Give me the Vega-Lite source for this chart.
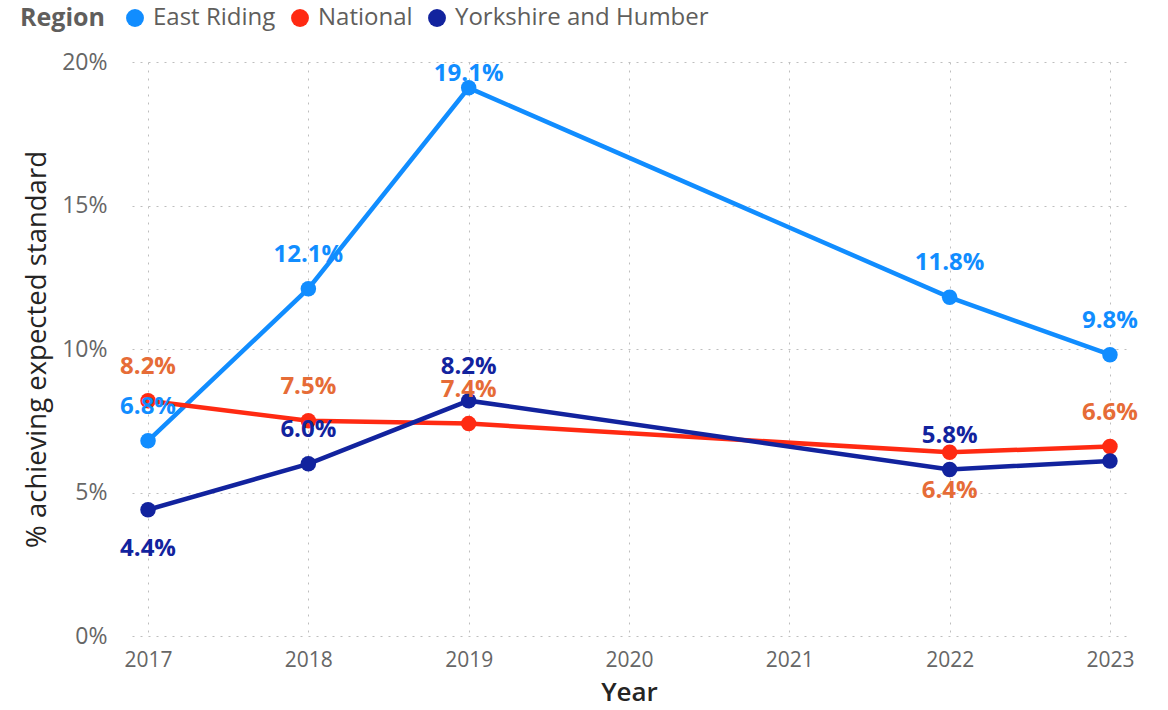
{
  "$schema": "https://vega.github.io/schema/vega-lite/v6.json",
  "width": 994,
  "height": 574,
  "autosize": "none",
  "padding": {"left": 132, "top": 62, "right": 42, "bottom": 74},
  "background": "white",
  "data": {
    "values": [
      {"Region": "East Riding", "Year": 2017, "Value": 0.068},
      {"Region": "East Riding", "Year": 2018, "Value": 0.121},
      {"Region": "East Riding", "Year": 2019, "Value": 0.191},
      {"Region": "East Riding", "Year": 2022, "Value": 0.118},
      {"Region": "East Riding", "Year": 2023, "Value": 0.098},
      {"Region": "National", "Year": 2017, "Value": 0.082},
      {"Region": "National", "Year": 2018, "Value": 0.075},
      {"Region": "National", "Year": 2019, "Value": 0.074},
      {"Region": "National", "Year": 2022, "Value": 0.064},
      {"Region": "National", "Year": 2023, "Value": 0.066},
      {"Region": "Yorkshire and Humber", "Year": 2017, "Value": 0.044},
      {"Region": "Yorkshire and Humber", "Year": 2018, "Value": 0.060},
      {"Region": "Yorkshire and Humber", "Year": 2019, "Value": 0.082},
      {"Region": "Yorkshire and Humber", "Year": 2022, "Value": 0.058},
      {"Region": "Yorkshire and Humber", "Year": 2023, "Value": 0.061}
    ]
  },
  "config": {
    "font": "Open Sans",
    "view": {"stroke": null},
    "axis": {
      "gridColor": "#BEBEBE",
      "gridDash": [2, 6],
      "gridWidth": 1,
      "domain": false,
      "ticks": false,
      "labelColor": "#666666",
      "labelFont": "Open Sans",
      "titleFont": "Open Sans",
      "titleColor": "#252423"
    },
    "legend": {
      "labelFontSize": 24,
      "titleFontSize": 25,
      "labelLimit": 0
    }
  },
  "encoding": {
    "x": {
      "field": "Year",
      "type": "quantitative",
      "scale": {"domain": [2016.9, 2023.1], "nice": false, "zero": false},
      "axis": {
        "values": [2017, 2018, 2019, 2020, 2021, 2022, 2023],
        "format": "d",
        "title": "Year",
        "labelFontSize": 21,
        "labelPadding": 13,
        "titleFontSize": 26,
        "titleFontWeight": 600,
        "titlePadding": 9,
        "labelFlush": false
      }
    },
    "y": {
      "field": "Value",
      "type": "quantitative",
      "scale": {"domain": [0, 0.2], "nice": false},
      "axis": {
        "values": [0, 0.05, 0.1, 0.15, 0.2],
        "format": ".0%",
        "title": "% achieving expected standard",
        "labelFontSize": 23,
        "labelPadding": 25,
        "titleFontSize": 27.5,
        "titleFontWeight": 500,
        "titlePadding": 10
      }
    }
  },
  "layer": [
    {
      "mark": {"type": "line", "strokeWidth": 4.5},
      "encoding": {
        "color": {
          "field": "Region",
          "type": "nominal",
          "scale": {
            "domain": ["East Riding", "National", "Yorkshire and Humber"],
            "range": ["#118DFF", "#FF2A12", "#12239E"]
          },
          "legend": {
            "title": "Region",
            "orient": "none",
            "legendX": -112,
            "legendY": -56,
            "direction": "horizontal",
            "titleOrient": "left",
            "titleFontSize": 25,
            "titleFontWeight": "bold",
            "titleColor": "#605E5C",
            "labelFontSize": 24,
            "labelColor": "#605E5C",
            "labelLimit": 0,
            "symbolType": "circle",
            "symbolSize": 320,
            "symbolStrokeWidth": 0,
            "symbolOpacity": 1,
            "columnPadding": 12,
            "labelOffset": 6,
            "titlePadding": 18
          }
        }
      }
    },
    {
      "mark": {"type": "point", "filled": true, "size": 240, "opacity": 1},
      "encoding": {
        "color": {"field": "Region", "type": "nominal"}
      }
    },
    {
      "transform": [
        {"filter": "!((datum.Region == 'National' && datum.Year == 2022) || (datum.Region == 'Yorkshire and Humber' && (datum.Year == 2017 || datum.Year == 2023)) || (datum.Region == 'East Riding' && datum.Year == 2019))"}
      ],
      "mark": {"type": "text", "dy": -34, "fontSize": 24, "fontWeight": "bold", "font": "Open Sans", "baseline": "middle"},
      "encoding": {
        "text": {"field": "Value", "type": "quantitative", "format": ".1%"},
        "fill": {
          "field": "Region",
          "type": "nominal",
          "scale": {
            "domain": ["East Riding", "National", "Yorkshire and Humber"],
            "range": ["#118DFF", "#E66C37", "#12239E"]
          },
          "legend": null
        }
      }
    },
    {
      "transform": [
        {"filter": "datum.Region == 'East Riding' && datum.Year == 2019"}
      ],
      "mark": {"type": "text", "dy": -14, "fontSize": 24, "fontWeight": "bold", "font": "Open Sans", "baseline": "middle"},
      "encoding": {
        "text": {"field": "Value", "type": "quantitative", "format": ".1%"},
        "fill": {"field": "Region", "type": "nominal", "legend": null}
      }
    },
    {
      "transform": [
        {"filter": "(datum.Region == 'National' && datum.Year == 2022) || (datum.Region == 'Yorkshire and Humber' && datum.Year == 2017)"}
      ],
      "mark": {"type": "text", "dy": 39, "fontSize": 24, "fontWeight": "bold", "font": "Open Sans", "baseline": "middle"},
      "encoding": {
        "text": {"field": "Value", "type": "quantitative", "format": ".1%"},
        "fill": {"field": "Region", "type": "nominal", "legend": null}
      }
    }
  ]
}
